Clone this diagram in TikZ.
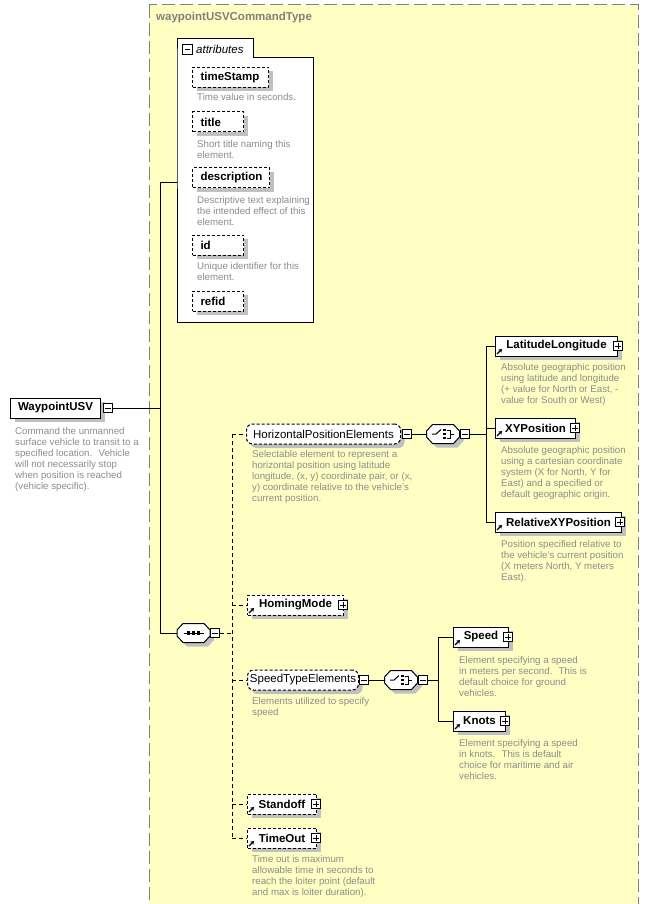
\documentclass[tikz,border=0pt]{standalone}
\usepackage{fontspec}
\setmainfont{Liberation Sans}
\usetikzlibrary{shadows,arrows.meta}

\definecolor{boxyellow}{RGB}{255,255,196}
\definecolor{rimgray}{RGB}{128,128,128}
\definecolor{shadegray}{RGB}{192,192,192}
\definecolor{notegray}{RGB}{140,140,140}

\tikzset{
  elem/.style={draw, fill=white, line width=1pt, minimum height=20pt, inner sep=0pt, anchor=west,
    font=\fontsize{11.5}{13}\selectfont\bfseries,
    drop shadow={shadow xshift=4pt, shadow yshift=-4pt, fill=shadegray, opacity=1}},
  optel/.style={elem, dash pattern=on 3pt off 2pt},
  grpel/.style={optel, rounded corners=6pt, font=\fontsize{11.5}{13}\selectfont},
  attel/.style={optel, inner xsep=8pt, text width=#1, align=left},
  note/.style={anchor=north west, inner sep=0pt, align=left, text=notegray,
    font=\fontsize{9.7}{10.9}\selectfont},
  minusbox/.style={draw, fill=white, line width=1pt, minimum size=9.5pt, inner sep=0pt,
    path picture={\draw[solid, line width=1pt] ([xshift=2pt]path picture bounding box.west)
      -- ([xshift=-2pt]path picture bounding box.east);}},
  plusbox/.style={draw, fill=white, line width=1pt, minimum size=9.5pt, inner sep=0pt,
    path picture={\draw[solid, line width=1pt] ([xshift=2pt]path picture bounding box.west)
      -- ([xshift=-2pt]path picture bounding box.east);
      \draw[solid, line width=1pt] ([yshift=-2pt]path picture bounding box.north)
      -- ([yshift=2pt]path picture bounding box.south);}},
  icon/.style={minimum width=33pt, minimum height=19pt, inner sep=0pt},
  link/.style={line width=1pt},
  optlink/.style={line width=1pt, dash pattern=on 4pt off 3pt},
  refmark/.style={line width=1.3pt, -{Stealth[length=3.5pt,width=4.5pt]}}
}

% octagon frame round an icon node
\newcommand\iconframe[1]{%
  \fill[shadegray] ([shift={(-12.5,1)}]#1.center) -- ([shift={(-6.5,-5.5)}]#1.center)
    -- ([shift={(14.5,-5.5)}]#1.center) -- ([shift={(20.5,1)}]#1.center)
    -- ([shift={(20.5,7)}]#1.center) -- ([shift={(14.5,13.5)}]#1.center)
    -- ([shift={(-6.5,13.5)}]#1.center) -- ([shift={(-12.5,7)}]#1.center) -- cycle;
  \filldraw[fill=white, line width=1pt] ([shift={(-16.5,-3)}]#1.center) -- ([shift={(-10.5,-9.5)}]#1.center)
    -- ([shift={(10.5,-9.5)}]#1.center) -- ([shift={(16.5,-3)}]#1.center)
    -- ([shift={(16.5,3)}]#1.center) -- ([shift={(10.5,9.5)}]#1.center)
    -- ([shift={(-10.5,9.5)}]#1.center) -- ([shift={(-16.5,3)}]#1.center) -- cycle;}

% choice symbol inside an icon node
\newcommand\choicemark[1]{%
  \draw[line width=1pt] ([xshift=-11pt]#1.center) -- ([xshift=-7pt]#1.center) -- ([shift={(-2,-4.5)}]#1.center);
  \foreach \dy in {-4,0,4}
    \fill ([shift={(0.3,\dy-1.3)}]#1.center) rectangle ++(2.6,2.6);
  \draw[line width=1pt] ([shift={(3.5,-4)}]#1.center) -- ++(3.5,0) -- ++(0,8) -- ++(-3.5,0);
  \draw[line width=1pt] ([xshift=7pt]#1.center) -- ([xshift=11pt]#1.center);}

\begin{document}
\begin{tikzpicture}[x=1pt,y=-1pt]
\useasboundingbox (0,0) rectangle (654,904);

% complex type
\draw[fill=boxyellow, draw=rimgray, line width=1pt, dash pattern=on 13pt off 5pt] (149,5) rectangle (638,915);
\node[anchor=west, inner sep=0pt, text=rimgray, font=\fontsize{11.5}{13}\selectfont\bfseries] (ttl) at (156,18) {waypointUSVCommandType};

% attributes
\draw[fill=white, line width=1pt] (177,58) -- (177,39) -- (253,39) -- (253,58) -- (313,58) -- (313,322) -- (177,322) -- cycle;
\node[minusbox] (attm) at (187.5,49.5) {};
\node[anchor=west, inner sep=0pt, font=\fontsize{11.5}{13}\selectfont\itshape] (attl) at (196,49.5) {attributes};
\coordinate (attin) at (177,183);

\node[attel=60pt] (ts) at (192,77.5) {timeStamp};
\node[note] (tsn) at (197,93.5) {Time value in seconds.};
\node[attel=35pt] (ttlat) at (192,122) {title};
\node[note] (ttln) at (197,140.5) {Short title naming this\\element.};
\node[attel=61pt] (dsc) at (192,178) {description};
\node[note] (dscn) at (197,196.5) {Descriptive text explaining\\the intended effect of this\\element.};
\node[attel=35pt] (id) at (192,245) {id};
\node[note] (idn) at (197,262.5) {Unique identifier for this\\element.};
\node[attel=35pt] (rid) at (192,301) {refid};

% root element
\node[elem, minimum width=90pt] (wp) at (10,408) {WaypointUSV};
\node[minusbox] (wpm) at (108,408) {};
\node[note] (wpn) at (15,427.5) {Command the unmanned\\surface vehicle to transit to a\\specified location.~ Vehicle\\will not necessarily stop\\when position is reached\\(vehicle specific).};

% sequence
\node[icon] (seq) at (193.5,633) {};
\iconframe{seq}
\node[minusbox] (seqm) at (215,633) {};
\draw[line width=1pt] ([xshift=-10pt]seq.center) -- ([xshift=10pt]seq.center);
\foreach \dx in {-5,0,5}
  \fill ([shift={(\dx-1.6,-1.6)}]seq.center) rectangle ++(3.2,3.2);

% horizontal position
\node[grpel, minimum width=154pt] (hpe) at (246,434) {HorizontalPositionElements};
\node[minusbox] (hpem) at (407,434) {};
\node[note] (hpen) at (252,450.5) {Selectable element to represent a\\horizontal position using latitude\\longitude, (x, y) coordinate pair, or (x,\\y) coordinate relative to the vehicle's\\current position.};

\node[icon] (ch1) at (443,434) {};
\iconframe{ch1}
\choicemark{ch1}
\node[minusbox] (ch1m) at (465,434) {};

\node[elem, minimum width=122pt] (lat) at (495,346) {LatitudeLongitude};
\node[plusbox] (latp) at (618,346) {};
\node[note] (latn) at (501,363.5) {Absolute geographic position\\using latitude and longitude\\(+ value for North or East, -\\value for South or West)};
\node[elem, minimum width=80pt] (xy) at (495,428) {XYPosition};
\node[plusbox] (xyp) at (575,428) {};
\node[note] (xyn) at (501,446.5) {Absolute geographic position\\using a cartesian coordinate\\system (X for North, Y for\\East) and a specified or\\default geographic origin.};
\node[elem, minimum width=126pt] (rxy) at (495,522) {RelativeXYPosition};
\node[plusbox] (rxyp) at (620,522) {};
\node[note] (rxyn) at (501,540.5) {Position specified relative to\\the vehicle's current position\\(X meters North, Y meters\\East).};

% homing
\node[optel, minimum width=96pt] (hom) at (247,605) {HomingMode};
\node[plusbox] (homp) at (343,605) {};

% speed
\node[grpel, minimum width=111pt] (ste) at (247,680) {SpeedTypeElements};
\node[minusbox] (stem) at (364,680) {};
\node[note] (sten) at (252,697.5) {Elements utilized to specify\\speed};

\node[icon] (ch2) at (401,680) {};
\iconframe{ch2}
\choicemark{ch2}
\node[minusbox] (ch2m) at (423,680) {};

\node[elem, minimum width=55pt] (spd) at (453,637) {Speed};
\node[plusbox] (spdp) at (508,637) {};
\node[note] (spdn) at (459,656.5) {Element specifying a speed\\in meters per second.~ This is\\default choice for ground\\vehicles.};
\node[elem, minimum width=52pt] (kts) at (453,721) {Knots};
\node[plusbox] (ktsp) at (505,721) {};
\node[note] (ktsn) at (459,739.5) {Element specifying a speed\\in knots.~ This is default\\choice for maritime and air\\vehicles.};

% standoff, timeout
\node[optel, minimum width=69pt] (stdf) at (247,804) {Standoff};
\node[plusbox] (stdfp) at (316,804) {};
\node[optel, minimum width=69pt] (tout) at (247,838) {TimeOut};
\node[plusbox] (toutp) at (316,838) {};
\node[note] (toutn) at (252,855.5) {Time out is maximum\\allowable time in seconds to\\reach the loiter point (default\\and max is loiter duration).};

% connectors
\coordinate (sptop) at (160,183);
\coordinate (spbot) at (160,633);
\draw[link] (wpm.east) -- (wpm.east -| sptop);
\draw[link] (sptop) -- (spbot);
\draw[link] (sptop) -- (attin);
\draw[link] (spbot) -- ([xshift=-16.5pt]seq.center);

\coordinate (sqtop) at (232,434);
\coordinate (sqbot) at (232,838);
\draw[optlink] (seqm.east) -- (seqm.east -| sqtop);
\draw[optlink] (sqtop) -- (sqbot);
\foreach \n in {hpe,hom,ste,stdf,tout}
  \draw[optlink] (\n.west -| sqtop) -- (\n.west);

\coordinate (c1top) at (486,346);
\coordinate (c1bot) at (486,522);
\draw[link] (hpem.east) -- ([xshift=-16.5pt]ch1.center);
\draw[link] (ch1m.east) -- (ch1m.east -| c1top);
\draw[link] (c1top) -- (c1bot);
\foreach \n in {lat,xy,rxy}
  \draw[link] (\n.west -| c1top) -- (\n.west);

\coordinate (c2top) at (438,637);
\coordinate (c2bot) at (438,721);
\draw[link] (stem.east) -- ([xshift=-16.5pt]ch2.center);
\draw[link] (ch2m.east) -- (ch2m.east -| c2top);
\draw[link] (c2top) -- (c2bot);
\foreach \n in {spd,kts}
  \draw[link] (\n.west -| c2top) -- (\n.west);

% reference marks
\foreach \n in {lat,xy,rxy,hom,spd,kts,stdf,tout}
  \draw[refmark] ([shift={(2,-2.5)}]\n.south west) -- ++(5,-5);
\end{tikzpicture}
\end{document}
